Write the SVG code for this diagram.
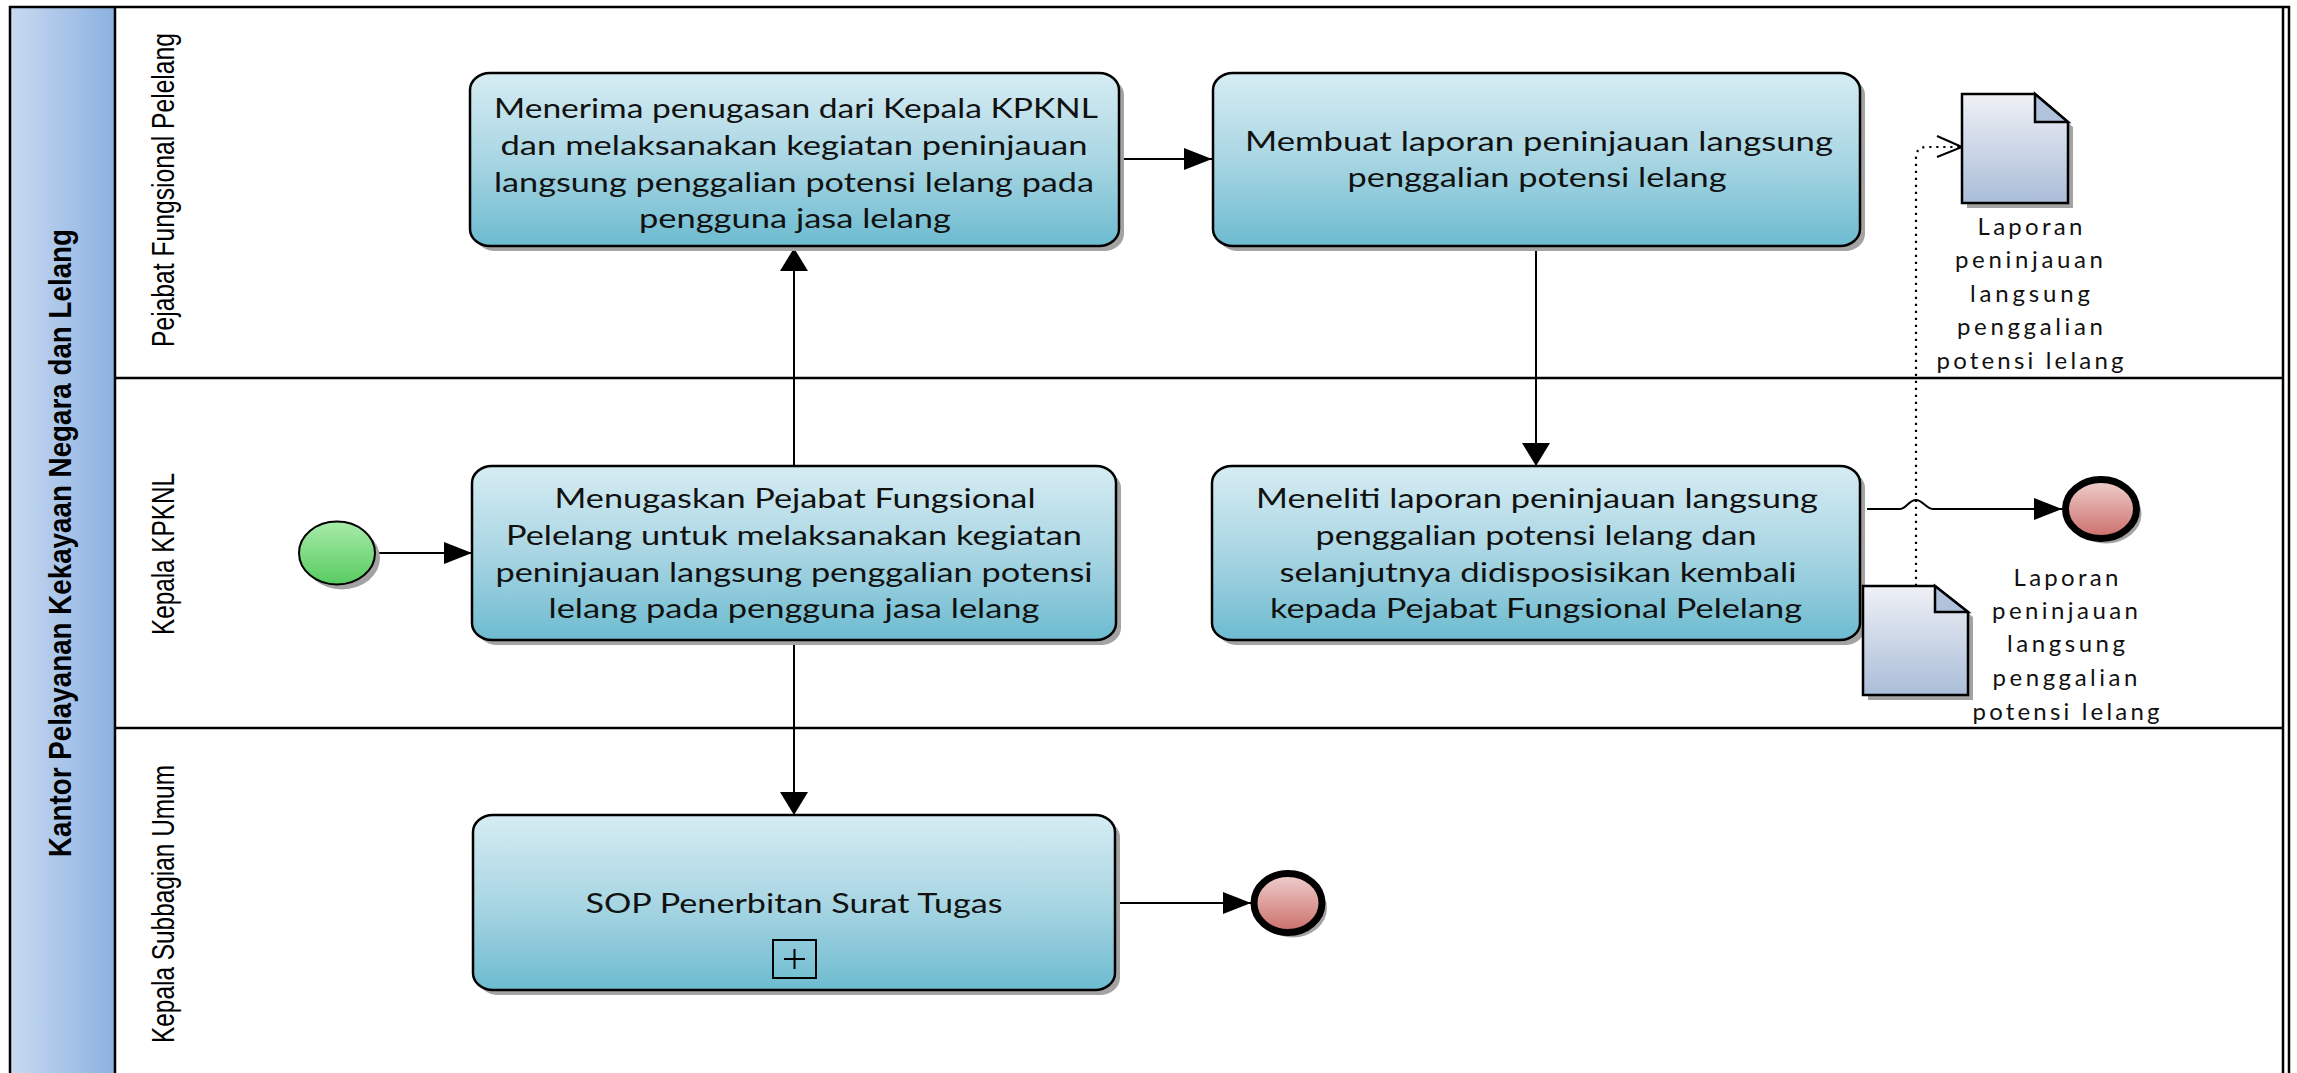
<svg xmlns="http://www.w3.org/2000/svg" width="2297" height="1073" viewBox="0 0 2297 1073">
<defs>
<linearGradient id="gTask" x1="0" y1="0" x2="0" y2="1"><stop offset="0" stop-color="#d6ecf3"/><stop offset="0.5" stop-color="#a9d6e3"/><stop offset="1" stop-color="#6dbbd0"/></linearGradient>
<linearGradient id="gHead" x1="0" y1="0" x2="1" y2="0"><stop offset="0" stop-color="#c8daf1"/><stop offset="1" stop-color="#8cb1e1"/></linearGradient>
<linearGradient id="gStart" x1="0" y1="0" x2="0" y2="1"><stop offset="0" stop-color="#a8ebaa"/><stop offset="1" stop-color="#58cb60"/></linearGradient>
<linearGradient id="gEnd" x1="0" y1="0" x2="0" y2="1"><stop offset="0" stop-color="#efd0cf"/><stop offset="1" stop-color="#cb6d68"/></linearGradient>
<linearGradient id="gDoc" x1="0" y1="0" x2="0" y2="1"><stop offset="0" stop-color="#eff1f6"/><stop offset="1" stop-color="#aabdd8"/></linearGradient>
<marker id="aH" markerUnits="userSpaceOnUse" markerWidth="30" markerHeight="24" refX="28" refY="11" orient="auto"><path d="M0,0 L28,11 L0,22 z" fill="#000"/></marker>
<marker id="aV" markerUnits="userSpaceOnUse" markerWidth="25" markerHeight="30" refX="23" refY="14" orient="auto"><path d="M0,0 L23,14 L0,28 z" fill="#000"/></marker>
<style>
.task{fill:url(#gTask);stroke:#000;stroke-width:2.5}
.shadow{fill:#a3a3a3;stroke:none}
.tt{font-family:Lato,"Liberation Sans",sans-serif;font-size:27px;fill:#111;text-anchor:middle}
.lbl{font-family:Lato,"Liberation Sans",sans-serif;font-size:24px;fill:#111;text-anchor:middle}
.lane{font-family:"Liberation Sans",Arial,sans-serif;font-size:31px;fill:#000;text-anchor:middle}
.pool{font-family:"Liberation Sans",Arial,sans-serif;font-size:32px;font-weight:bold;fill:#000;text-anchor:middle}
.ln{stroke:#000;stroke-width:2.5;fill:none}
.flow{stroke:#000;stroke-width:2;fill:none}
.doc{fill:url(#gDoc);stroke:#000;stroke-width:2.5}
.fold{fill:#b1c2dc;stroke:#000;stroke-width:2.5;stroke-linejoin:miter}
</style>
</defs>

<g id="pool">
<rect x="10" y="7" width="105" height="1080" fill="url(#gHead)"/>
<rect x="10" y="7" width="2279" height="1080" class="ln"/>
<line x1="115" y1="7" x2="115" y2="1087" class="ln"/>
<line x1="2283" y1="7" x2="2283" y2="1087" class="ln"/>
<line x1="115" y1="378" x2="2283" y2="378" class="ln"/>
<line x1="115" y1="728" x2="2283" y2="728" class="ln"/>
<text class="pool" transform="translate(71,543) rotate(-90)" textLength="628" lengthAdjust="spacingAndGlyphs">Kantor Pelayanan Kekayaan Negara dan Lelang</text>
<text class="lane" transform="translate(174,190) rotate(-90)" textLength="314" lengthAdjust="spacingAndGlyphs">Pejabat Fungsional Pelelang</text>
<text class="lane" transform="translate(174,554) rotate(-90)" textLength="162" lengthAdjust="spacingAndGlyphs">Kepala KPKNL</text>
<text class="lane" transform="translate(174,904) rotate(-90)" textLength="278" lengthAdjust="spacingAndGlyphs">Kepala Subbagian Umum</text>
</g>

<g id="connectors">
<path class="flow" d="M376,553 L472,553" marker-end="url(#aH)"/>
<path class="flow" d="M794,466 L794,248" marker-end="url(#aV)"/>
<path class="flow" d="M794,640 L794,815" marker-end="url(#aV)"/>
<path class="flow" d="M1119,159 L1212,159" marker-end="url(#aH)"/>
<path class="flow" d="M1536,246 L1536,466" marker-end="url(#aV)"/>
<path class="flow" d="M1867,509 L1900,509 C1906,509 1909,500 1916,500 C1923,500 1926,509 1933,509 L2062,509" marker-end="url(#aH)"/>
<path class="flow" d="M1114,903 L1251,903" marker-end="url(#aH)"/>
<path d="M1916,586 L1916,158 Q1916,147 1927,147 L1960,147" fill="none" stroke="#000" stroke-width="2.2" stroke-dasharray="2.2 4.8"/>
<path d="M1937,136 L1962,147 L1937,157" fill="none" stroke="#000" stroke-width="2"/>
</g>

<g id="start">
<ellipse cx="342" cy="558" rx="38" ry="31.5" class="shadow"/>
<ellipse cx="337" cy="553" rx="38" ry="31.5" fill="url(#gStart)" stroke="#000" stroke-width="2"/>
</g>

<g id="task1">
<rect x="475" y="78" width="649" height="173" rx="20" ry="17" class="shadow"/>
<rect x="470" y="73" width="649" height="173" rx="20" ry="17" class="task"/>
<text class="tt" x="796" y="118" textLength="604" lengthAdjust="spacingAndGlyphs">Menerima penugasan dari Kepala KPKNL</text>
<text class="tt" x="794" y="155" textLength="587" lengthAdjust="spacingAndGlyphs">dan melaksanakan kegiatan peninjauan</text>
<text class="tt" x="794" y="192" textLength="600" lengthAdjust="spacingAndGlyphs">langsung penggalian potensi lelang pada</text>
<text class="tt" x="795" y="228" textLength="312" lengthAdjust="spacingAndGlyphs">pengguna jasa lelang</text>
</g>

<g id="task2">
<rect x="1218" y="78" width="647" height="173" rx="20" ry="17" class="shadow"/>
<rect x="1213" y="73" width="647" height="173" rx="20" ry="17" class="task"/>
<text class="tt" x="1539" y="151" textLength="588" lengthAdjust="spacingAndGlyphs">Membuat laporan peninjauan langsung</text>
<text class="tt" x="1537" y="187" textLength="379" lengthAdjust="spacingAndGlyphs">penggalian potensi lelang</text>
</g>

<g id="task3">
<rect x="477" y="471" width="644" height="174" rx="20" ry="17" class="shadow"/>
<rect x="472" y="466" width="644" height="174" rx="20" ry="17" class="task"/>
<text class="tt" x="795" y="508" textLength="481" lengthAdjust="spacingAndGlyphs">Menugaskan Pejabat Fungsional</text>
<text class="tt" x="794" y="545" textLength="576" lengthAdjust="spacingAndGlyphs">Pelelang untuk melaksanakan kegiatan</text>
<text class="tt" x="794" y="582" textLength="597" lengthAdjust="spacingAndGlyphs">peninjauan langsung penggalian potensi</text>
<text class="tt" x="794" y="618" textLength="491" lengthAdjust="spacingAndGlyphs">lelang pada pengguna jasa lelang</text>
</g>

<g id="task4">
<rect x="1217" y="471" width="648" height="174" rx="20" ry="17" class="shadow"/>
<rect x="1212" y="466" width="648" height="174" rx="20" ry="17" class="task"/>
<text class="tt" x="1537" y="508" textLength="562" lengthAdjust="spacingAndGlyphs">Meneliti laporan peninjauan langsung</text>
<text class="tt" x="1536" y="545" textLength="441" lengthAdjust="spacingAndGlyphs">penggalian potensi lelang dan</text>
<text class="tt" x="1538" y="582" textLength="517" lengthAdjust="spacingAndGlyphs">selanjutnya didisposisikan kembali</text>
<text class="tt" x="1536" y="618" textLength="532" lengthAdjust="spacingAndGlyphs">kepada Pejabat Fungsional Pelelang</text>
</g>

<g id="task5">
<rect x="478" y="820" width="642" height="175" rx="20" ry="17" class="shadow"/>
<rect x="473" y="815" width="642" height="175" rx="20" ry="17" class="task"/>
<text class="tt" x="794" y="913" textLength="417" lengthAdjust="spacingAndGlyphs">SOP Penerbitan Surat Tugas</text>
<rect x="773" y="940" width="43" height="38" fill="none" stroke="#000" stroke-width="2"/>
<path d="M794.5,949 V969 M784,959 H805" stroke="#000" stroke-width="2" fill="none"/>
</g>

<g id="end1">
<ellipse cx="1293" cy="908" rx="34" ry="29.5" class="shadow" stroke="#a3a3a3" stroke-width="7"/>
<ellipse cx="1288" cy="903" rx="34" ry="29.5" fill="url(#gEnd)" stroke="#000" stroke-width="7"/>
</g>

<g id="end2">
<ellipse cx="2106" cy="514" rx="35.5" ry="29.5" class="shadow" stroke="#a3a3a3" stroke-width="7"/>
<ellipse cx="2101" cy="509" rx="35.5" ry="29.5" fill="url(#gEnd)" stroke="#000" stroke-width="7"/>
<text class="lbl" x="2066" y="586" textLength="105" lengthAdjust="spacing">Laporan</text>
<text class="lbl" x="2065" y="619" textLength="146" lengthAdjust="spacing">peninjauan</text>
<text class="lbl" x="2066" y="652" textLength="118" lengthAdjust="spacing">langsung</text>
<text class="lbl" x="2065" y="686" textLength="145" lengthAdjust="spacing">penggalian</text>
<text class="lbl" x="2066" y="720" textLength="187" lengthAdjust="spacing">potensi lelang</text>
</g>

<g id="doc1">
<path d="M1967,99 H2040 L2073,127 V208 H1967 Z" class="shadow"/>
<path d="M1962,94 H2035 L2068,122 V203 H1962 Z" class="doc"/>
<path d="M2035,94 V122 H2068 Z" class="fold"/>
<text class="lbl" x="2030" y="235" textLength="105" lengthAdjust="spacing">Laporan</text>
<text class="lbl" x="2029" y="268" textLength="148" lengthAdjust="spacing">peninjauan</text>
<text class="lbl" x="2030" y="302" textLength="120" lengthAdjust="spacing">langsung</text>
<text class="lbl" x="2030" y="335" textLength="146" lengthAdjust="spacing">penggalian</text>
<text class="lbl" x="2030" y="369" textLength="187" lengthAdjust="spacing">potensi lelang</text>
</g>

<g id="doc2">
<path d="M1868,591 H1940 L1973,617 V700 H1868 Z" class="shadow"/>
<path d="M1863,586 H1935 L1968,612 V695 H1863 Z" class="doc"/>
<path d="M1935,586 V612 H1968 Z" class="fold"/>
</g>
</svg>
